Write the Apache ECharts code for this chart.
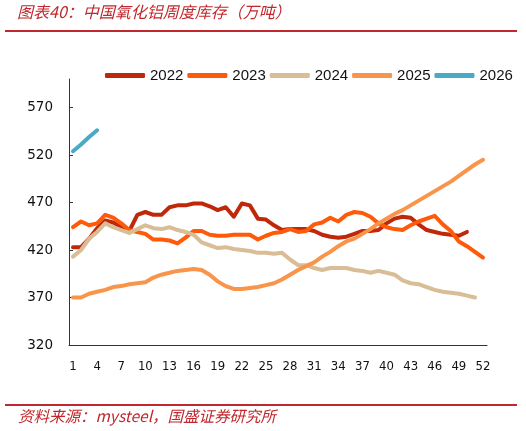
<!DOCTYPE html>
<html>
<head>
<meta charset="utf-8">
<script src="https://cdn.jsdelivr.net/npm/echarts@6/dist/echarts.min.js"></script>
<style>
  html, body { margin: 0; padding: 0; background: #fff; }
  #main { width: 526px; height: 431px; }
</style>
</head>
<body>
<div id="main"></div>
<script>
// 周次
const weeks = [];
for (let i = 1; i <= 52; i++) weeks.push(String(i));

// 各年周度库存（万吨）
const d2022 = [423, 423, 432, 443, 451, 449, 444, 440, 457, 460, 457, 457, 465, 467, 467, 469, 469, 466, 462, 465,
  455, 469, 467, 453, 452, 446, 441, 442, 442, 442, 440, 436, 434, 433, 434, 437, 440, 440, 441, 448,
  453, 455, 454, 447, 441, 439, 437, 436, 435, 439];
const d2023 = [444, 450, 446, 448, 457, 454, 448, 441, 439, 437, 431, 431, 430, 427, 433, 440, 440, 436, 435, 435,
  436, 436, 436, 431, 435, 438, 439, 442, 439, 440, 447, 449, 454, 450, 457, 460, 459, 455, 448, 444,
  442, 441, 446, 450, 453, 456, 447, 440, 429, 424, 418, 412];
const d2024 = [413, 420, 432, 439, 448, 444, 441, 438, 442, 446, 443, 442, 444, 441, 439, 436, 428, 425, 422, 423,
  421, 420, 419, 417, 417, 416, 417, 410, 404, 404, 401, 399, 401, 401, 401, 399, 398, 396, 398, 396,
  394, 388, 385, 384, 381, 378, 376, 375, 374, 372, 370];
const d2025 = [370, 370, 374, 376, 378, 381, 382, 384, 385, 386, 391, 394, 396, 398, 399, 400, 399, 394, 387, 382,
  379, 379, 380, 381, 383, 385, 389, 394, 399, 403, 407, 413, 418, 424, 429, 432, 437, 442, 448, 453,
  458, 462, 467, 472, 477, 482, 487, 492, 498, 504, 510, 515];
const d2026 = [524, 531, 539, 546];

const yTicks = [320, 370, 420, 470, 520, 570];

const names = ['2022', '2023', '2024', '2025', '2026'];
const colors = ['#c0280c', '#ff5a0a', '#d8bd96', '#f8954a', '#4aaac6'];
const datas = [d2022, d2023, d2024, d2025, d2026];

const red = '#c0282d';
const cjk = '"Noto Sans CJK SC", sans-serif';

const chart = echarts.init(document.getElementById('main'));

const option = {
  backgroundColor: '#fff',
  animation: false,
  color: colors,
  graphic: [
    {
      type: 'text', left: 17, top: 4,
      style: { text: '图表40：中国氧化铝周度库存（万吨）', fill: red, font: 'italic 16px ' + cjk }
    },
    {
      type: 'rect', shape: { x: 5, y: 30, width: 512, height: 2 },
      style: { fill: red }
    },
    {
      type: 'rect', shape: { x: 5, y: 404, width: 512, height: 2 },
      style: { fill: red }
    },
    {
      type: 'text', left: 18, top: 408,
      style: { text: '资料来源：mysteel，国盛证券研究所', fill: red, font: 'italic 15.5px ' + cjk }
    }
  ],
  legend: {
    left: 100,
    top: 63,
    itemWidth: 40,
    itemHeight: 5,
    itemGap: 4,
    icon: 'roundRect',
    data: names,
    textStyle: { fontFamily: 'Liberation Sans', fontSize: 15, color: '#111' }
  },
  grid: { left: 69, right: 39, top: 79, bottom: 86 },
  xAxis: {
    type: 'category',
    data: weeks,
    boundaryGap: true,
    axisLine: { lineStyle: { color: '#333', width: 1 } },
    axisTick: { inside: true, length: 4, interval: 2, lineStyle: { color: '#333' } },
    axisLabel: {
      interval: 2, margin: 15, color: '#111',
      fontFamily: 'DejaVu Sans Condensed', fontSize: 13
    },
    splitLine: { show: false }
  },
  yAxis: {
    type: 'value',
    min: 320,
    max: 600,
    interval: 50,
    axisLine: { show: true, lineStyle: { color: '#333', width: 1 } },
    axisTick: { show: true, inside: true, length: 4, customValues: yTicks, lineStyle: { color: '#333' } },
    axisLabel: {
      customValues: yTicks, margin: 16, color: '#111',
      fontFamily: 'DejaVu Sans', fontSize: 13.5
    },
    splitLine: { show: false }
  },
  series: names.map(function (n, i) {
    return {
      name: n,
      type: 'line',
      data: datas[i],
      symbol: 'none',
      lineStyle: { width: 4, color: colors[i], cap: 'round', join: 'round' },
      itemStyle: { color: colors[i] }
    };
  })
};

chart.setOption(option);
</script>
</body>
</html>
